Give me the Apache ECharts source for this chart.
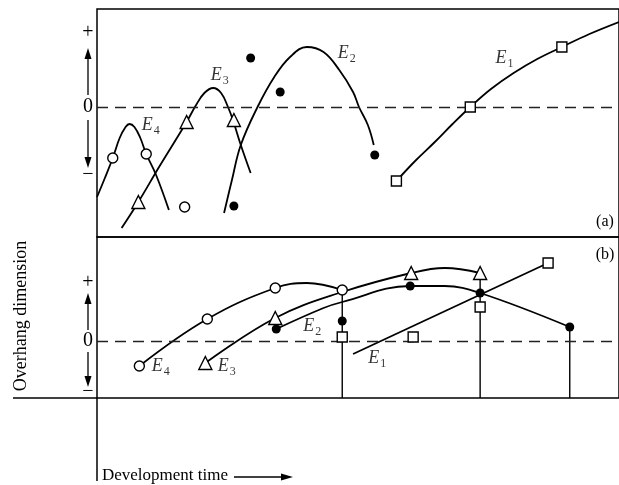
<!DOCTYPE html>
<html><head><meta charset="utf-8">
<script src="https://cdn.jsdelivr.net/npm/echarts@6/dist/echarts.min.js"></script>
<style>html,body{margin:0;padding:0;background:#fff}#c{width:619px;height:485px}</style>
</head><body><div id="c"></div>
<script>
// ---- Panel (a): [development time, overhang dimension] ----
const aE4 = [[0,-9.0],[1.6,-7.1],[3.2,-5.1],[4.6,-3.1],[5.8,-2.0],[6.6,-1.7],[7.6,-2.0],[8.8,-3.1],[10,-4.7],[12,-6.8],[14.6,-10.3]];
const aE3 = [[5,-12.1],[8.4,-9.5],[12.6,-6.0],[18.2,-1.5],[20,0.1],[21.8,1.4],[23.6,1.9],[25.2,1.4],[26.6,0],[27.6,-1.3],[29.2,-3.8],[31.2,-6.6]];
const aE2 = [[25.8,-10.6],[27.4,-7.3],[29.2,-3.8],[32.6,0],[36,3],[39.2,5],[42.6,6],[46,5.5],[49.2,3.7],[52,1.5],[53.2,0],[55,-1.8],[56.2,-3.8]];
const aE1 = [[60.8,-7.4],[64.6,-5.4],[68.6,-3.5],[72.2,-1.7],[75.8,0],[80,1.8],[84.6,3.4],[89.4,4.8],[94.4,6],[100,7.3],[106,8.5]];
const aCircles = [[3.2,-5.1],[10,-4.7],[17.8,-10.0]];
const aTriangles = [[8.4,-9.5],[18.2,-1.5],[27.8,-1.3]];
const aDots = [[31.2,4.9],[37.2,1.5],[56.4,-4.8],[27.8,-9.9]];
const aSquares = [[60.8,-7.4],[75.8,0],[94.4,6]];
// ---- Panel (b) ----
const bE4 = [[8.6,-2.5],[22.4,2.2],[36.2,5.3],[42.6,5.8],[49.8,5.1]];
const bE3 = [[22,-2.2],[36.2,2.3],[49.8,4.9],[63.8,6.8],[70.6,7.3],[77.8,6.8]];
const bE2 = [[36.4,1.2],[46,3.3],[49.8,3.9],[63.6,5.5],[70.6,5.5],[77.8,4.8],[96,1.4]];
const bE1 = [[52,-1.3],[91.6,7.8]];
const bCircles = [[8.6,-2.5],[22.4,2.2],[36.2,5.3],[49.8,5.1]];
const bTriangles = [[22,-2.2],[36.2,2.3],[63.8,6.8],[77.8,6.8]];
const bDots = [[36.4,1.2],[63.6,5.5],[77.8,4.8],[96,1.4],[49.8,2.0]];
const bSquares = [[49.8,0.4],[64.2,0.4],[77.8,3.4],[91.6,7.8]];
const bDrops = [[49.8,5.1],[77.8,6.8],[96,1.4]];
// ---- curve labels ----
const aLabels = [[9.2,-1.9,'4'],[23.2,3.1,'3'],[49,5.3,'2'],[81,4.8,'1']];
const bLabels = [[11.2,-2.6,'4'],[24.6,-2.6,'3'],[42,1.4,'2'],[55.2,-1.8,'1']];
// ---- axis ranges & tick labels ----
const xRange = [0, 106];
const aRange = [-13, 9.8];
const bRange = [-5.7, 10.4];
const aTicks = [7.4, 0, -6.8];
const bTicks = [5.8, 0, -5.1];
const tickText = v => v > 0 ? '+' : (v < 0 ? '\u2212' : '0');

const SERIF = 'Liberation Serif';
const INK = '#000';
const chart = echarts.init(document.getElementById('c'));

function curve(data, g) {
  return {type:'line', xAxisIndex:g, yAxisIndex:g, data, smooth:0.4, showSymbol:false, silent:true,
    lineStyle:{color:INK, width:1.8}, z:2, animation:false};
}
function marks(data, g, symbol, filled, size) {
  return {type:'scatter', xAxisIndex:g, yAxisIndex:g, data, symbol, symbolSize:size, silent:true,
    itemStyle:{color: filled ? INK : '#fff', borderColor:INK, borderWidth: filled ? 0 : 1.4, opacity:1},
    z:5, animation:false};
}
function labels(data, g) {
  return {type:'scatter', xAxisIndex:g, yAxisIndex:g, symbolSize:1, silent:true,
    itemStyle:{color:'rgba(0,0,0,0)'}, z:6, animation:false,
    data: data.map(d => ({value:[d[0], d[1]], sub:d[2]})),
    label:{show:true, position:[0,0], align:'left', verticalAlign:'middle',
      formatter: p => '{e|E}{s|' + p.data.sub + '}',
      rich:{ e:{fontFamily:SERIF, fontStyle:'italic', fontSize:18, color:INK},
             s:{fontFamily:SERIF, fontSize:12, color:INK, padding:[11,0,0,1]} }}};
}
function zeroLine(g) {
  return {type:'line', xAxisIndex:g, yAxisIndex:g, data:[], silent:true,
    markLine:{silent:true, symbol:'none', label:{show:false}, animation:false,
      lineStyle:{color:'#222', width:1.4, type:[11,7]}, data:[{yAxis:0}]}};
}

const series = [
  zeroLine(0), zeroLine(1),
  curve(aE4,0), curve(aE3,0), curve(aE2,0), curve(aE1,0),
  marks(aCircles,0,'circle',false,10), marks(aTriangles,0,'triangle',false,13),
  marks(aDots,0,'circle',true,9), marks(aSquares,0,'rect',false,10),
  curve(bE4,1), curve(bE3,1), curve(bE2,1), curve(bE1,1),
  marks(bCircles,1,'circle',false,10), marks(bTriangles,1,'triangle',false,13),
  marks(bDots,1,'circle',true,9), marks(bSquares,1,'rect',false,10),
  labels(aLabels,0), labels(bLabels,1)
];
bDrops.forEach(d => series.push({type:'line', xAxisIndex:1, yAxisIndex:1, silent:true, showSymbol:false,
  data:[[d[0], d[1]], [d[0], bRange[0]]], lineStyle:{color:INK, width:1.4}, z:1, animation:false}));

function yAx(g, r, ticks) {
  return {type:'value', gridIndex:g, min:r[0], max:r[1], splitLine:{show:false},
    axisLine:{show:false}, axisTick:{show:false},
    axisLabel:{customValues:ticks, formatter:tickText, fontFamily:SERIF, fontSize:20, color:INK,
      align:'center', margin:9}};
}
function xAx(g) {
  return {type:'value', gridIndex:g, min:xRange[0], max:xRange[1], show:false};
}

chart.setOption({
  animation:false,
  grid:[
    {left:97, top:9, width:530, height:228, show:true, borderColor:INK, borderWidth:1.5, backgroundColor:'transparent'},
    {left:97, top:237, width:530, height:161, show:true, borderColor:INK, borderWidth:1.5, backgroundColor:'transparent'}
  ],
  xAxis:[xAx(0), xAx(1)],
  yAxis:[yAx(0, aRange, aTicks), yAx(1, bRange, bTicks)],
  series
});

// decorations: arrows beside the y scale, frame extensions, titles
const P = (g, x, y) => chart.convertToPixel({gridIndex:g}, [x, y]);
const g = [];
function arrow(x, y1, y2) { // from y1 to tip y2
  const dir = y2 > y1 ? 1 : -1;
  g.push({type:'line', shape:{x1:x, y1:y1, x2:x, y2:y2 - dir*8}, style:{stroke:INK, lineWidth:1.3}});
  g.push({type:'polygon', shape:{points:[[x, y2],[x-3.5, y2 - dir*11],[x+3.5, y2 - dir*11]]}, style:{fill:INK}});
}
const ax = P(0, 0, 0)[0] - 9;
arrow(ax, P(0,0,1.2)[1], P(0,0,5.9)[1]);
arrow(ax, P(0,0,-1.3)[1], P(0,0,-6.1)[1]);
arrow(ax, P(1,0,1.1)[1], P(1,0,4.8)[1]);
arrow(ax, P(1,0,-1.1)[1], P(1,0,-4.6)[1]);
const origin = P(1, 0, bRange[0]);
g.push({type:'line', shape:{x1:origin[0], y1:origin[1], x2:origin[0], y2:481}, style:{stroke:INK, lineWidth:1.5}});
g.push({type:'line', shape:{x1:13, y1:origin[1], x2:origin[0], y2:origin[1]}, style:{stroke:INK, lineWidth:1.5}});
g.push({type:'text', x:21, y:316, rotation:Math.PI/2,
  style:{text:'Overhang dimension', font:'18px "Liberation Serif"', fill:INK, align:'center', verticalAlign:'middle'}});
g.push({type:'text', x:102, y:476,
  style:{text:'Development time', font:'17px "Liberation Serif"', fill:INK, align:'left', verticalAlign:'middle'}});
g.push({type:'line', shape:{x1:234, y1:477, x2:284, y2:477}, style:{stroke:INK, lineWidth:1.3}});
g.push({type:'polygon', shape:{points:[[293,477],[281,473.5],[281,480.5]]}, style:{fill:INK}});
g.push({type:'text', x:605, y:222, style:{text:'(a)', font:'16px "Liberation Serif"', fill:INK, align:'center', verticalAlign:'middle'}});
g.push({type:'text', x:605, y:255, style:{text:'(b)', font:'16px "Liberation Serif"', fill:INK, align:'center', verticalAlign:'middle'}});
chart.setOption({graphic:g});
</script></body></html>
